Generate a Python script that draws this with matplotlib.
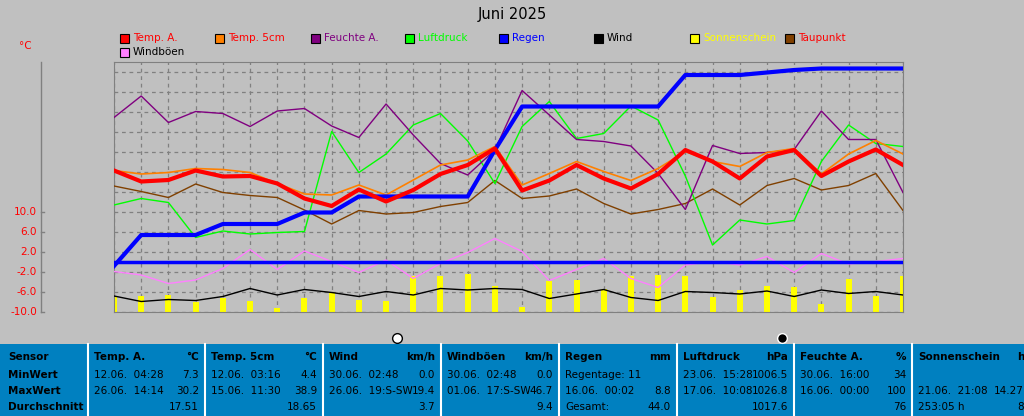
import matplotlib
matplotlib.use("Agg")
import matplotlib.pyplot as plt
import matplotlib.transforms as mtrans
from matplotlib.patches import Rectangle
from matplotlib.lines import Line2D

days = list(range(1, 31))
temp_a = [18.3,16.1,16.4,18.3,17.1,17.2,15.7,12.7,11.2,14.5,12.1,14.4,17.6,19.4,22.7,
          14.3,16.3,19.4,16.7,14.7,17.6,22.4,20.1,16.7,21.1,22.4,17.2,20.1,22.5,19.4]
temp_5cm = [18.3,17.6,17.9,18.7,18.5,17.9,15.7,13.6,13.4,15.4,13.4,16.4,19.4,20.4,23.1,
            15.4,17.7,20.1,18.1,16.3,18.7,22.1,20.1,19.1,21.9,22.7,17.6,21.6,24.3,21.6]
feuchte = [28.9,33.2,27.9,30.1,29.7,27.1,30.2,30.7,27.2,24.9,31.6,25.4,19.7,17.4,22.4,
           34.3,29.4,24.5,24.1,23.2,17.7,10.5,23.3,21.7,21.9,22.5,30.2,24.5,24.5,13.9]
luftdruck = [11.4,12.7,11.9,4.9,6.2,5.6,5.9,6.1,26.1,17.9,21.6,27.4,29.7,24.2,15.7,
             27.1,32.1,24.7,25.7,31.2,28.4,17.2,3.4,8.4,7.6,8.3,20.1,27.4,23.7,23.1]
regen = [-0.8,5.4,5.4,5.4,7.6,7.6,7.6,9.9,9.9,13.1,13.1,13.1,13.1,13.1,22.4,
         31.1,31.1,31.1,31.1,31.1,31.1,37.4,37.4,37.4,37.9,38.4,38.7,38.7,38.7,38.7]
regen_base = [0.0]*30
windboeen = [-1.9,-2.6,-4.3,-3.6,-1.3,2.5,-1.5,2.2,0.1,-2.1,0.4,-3.3,-0.3,1.9,4.7,
             2.1,-3.7,-1.5,0.7,-3.3,-5.1,-0.6,0.1,-0.6,1.1,-2.1,1.7,-0.4,0.1,0.7]
wind = [-6.8,-7.9,-7.5,-7.7,-6.9,-5.3,-6.6,-5.5,-6.1,-6.9,-5.9,-6.6,-5.3,-5.6,-5.3,
        -5.5,-7.3,-6.4,-5.5,-7.1,-7.7,-5.9,-6.1,-6.4,-5.8,-6.9,-5.6,-6.3,-5.9,-6.6]
sonne = [-6.8,-6.8,-6.6,-7.9,-7.1,-7.7,-9.1,-7.1,-6.1,-7.6,-7.7,-2.8,-2.8,-2.4,-4.8,
         -8.9,-3.7,-3.5,-5.3,-2.8,-2.6,-2.8,-6.9,-5.5,-4.8,-4.9,-8.4,-3.3,-6.8,-2.8]
taupunkt = [15.2,14.1,12.9,15.6,13.9,13.3,12.9,10.4,7.6,10.3,9.6,9.9,11.1,11.9,16.3,
            12.7,13.2,14.6,11.7,9.6,10.5,11.7,14.6,11.4,15.3,16.7,14.4,15.3,17.7,10.3]
ytick_labels = ["-10.0","-6.0","-2.0","2.0","6.0","10.0"]
ytick_vals = [-10,-6,-2,2,6,10]

legend_names = ["Temp. A.","Temp. 5cm","Feuchte A.","Luftdruck","Regen","Wind","Sonnenschein","Taupunkt","Windböen"]
legend_colors = ["#ff0000","#ff8000","#800080","#00ff00","#0000ff","#000000","#ffff00","#804000","#ff80ff"]
legend_text_colors = ["#ff0000","#ff0000","#800080","#00ff00","#0000ff","#000000","#ffff00","#ff0000","#000000"]

table_cols = [
    ("Temp. A.", "°C", [("12.06.  04:28", "7.3"), ("26.06.  14:14", "30.2"), ("", "17.51")]),
    ("Temp. 5cm", "°C", [("12.06.  03:16", "4.4"), ("15.06.  11:30", "38.9"), ("", "18.65")]),
    ("Wind", "km/h", [("30.06.  02:48", "0.0"), ("26.06.  19:S-SW", "19.4"), ("", "3.7")]),
    ("Windböen", "km/h", [("30.06.  02:48", "0.0"), ("01.06.  17:S-SW", "46.7"), ("", "9.4")]),
    ("Regen", "mm", [("Regentage: 11", ""), ("16.06.  00:02", "8.8"), ("Gesamt:", "44.0")]),
    ("Luftdruck", "hPa", [("23.06.  15:28", "1006.5"), ("17.06.  10:08", "1026.8"), ("", "1017.6")]),
    ("Feuchte A.", "%", [("30.06.  16:00", "34"), ("16.06.  00:00", "100"), ("", "76")]),
    ("Sonnenschein", "h", [("", ""), ("21.06.  21:08", "14.27"), ("253:05 h", "8")]),
]
row_names = ["Sensor", "MinWert", "MaxWert", "Durchschnitt"]

W, H = 1024, 416
bg = "#c0c0c0"
fig = plt.figure(figsize=(W/100, H/100), dpi=100, facecolor=bg)
def fx(px): return px / W
def fy(py): return 1 - py / H

ax = fig.add_axes([fx(114), fy(312), fx(903)-fx(114), (312-62)/H])
ax.set_facecolor(bg)
ax.set_xlim(1, 30)
ax.set_ylim(-10, 40)
ax.set_xticks(days)
ax.set_yticks(list(range(-10, 41, 4)))
ax.grid(True, color="#808080", linestyle=(0, (3, 3)), linewidth=0.9)
ax.tick_params(length=0, labelleft=False, labelbottom=False)
for s in ax.spines.values():
    s.set_color("#808080")

ax.bar(days, [v + 10 for v in sonne], bottom=-10, width=0.22, color="#ffff00", zorder=2)
ax.plot(days, wind, color="#000000", lw=1, zorder=3)
ax.plot(days, windboeen, color="#ff80ff", lw=1, zorder=3)
ax.plot(days, regen_base, color="#0000ff", lw=2.5, zorder=3)
ax.plot(days, taupunkt, color="#804000", lw=1, zorder=3)
ax.plot(days, luftdruck, color="#00ff00", lw=1, zorder=3)
ax.plot(days, feuchte, color="#800080", lw=1, zorder=3)
ax.plot(days, temp_5cm, color="#ff8000", lw=1.2, zorder=4)
ax.plot(days, regen, color="#0000ff", lw=3, zorder=5)
ax.plot(days, temp_a, color="#ff0000", lw=3, zorder=6)

# left y-axis
fig.add_artist(Line2D([fx(41), fx(41)], [fy(62), fy(312)], color="#808080", lw=1))
tr = mtrans.blended_transform_factory(fig.transFigure, ax.transData)
for v, lab in zip(ytick_vals, ytick_labels):
    fig.add_artist(Line2D([fx(41), fx(44)], [v, v], transform=tr, color="#808080", lw=1))
    fig.text(fx(37), v, lab, transform=tr, ha="right", va="center", color="#ff0000", fontsize=7.5)
fig.text(fx(25), fy(46), "°C", color="#ff0000", ha="center", va="center", fontsize=7.5)
fig.text(0.5, fy(15), "Juni 2025", ha="center", va="center", fontsize=10.5)

# legend
leg_x = [124, 219, 315, 409, 503, 598, 694, 789, 124]
leg_y = [38]*8 + [52]
for name, c, tc, x, y in zip(legend_names, legend_colors, legend_text_colors, leg_x, leg_y):
    fig.add_artist(Rectangle((fx(x-4), fy(y+5)), 9/W, 9/H, facecolor=c, edgecolor="black", lw=0.8))
    fig.text(fx(x+14-5), fy(y), name, color=tc, ha="left", va="center", fontsize=7.5)

# markers
fig.add_artist(Line2D([fx(397)], [fy(338)], marker="o", ms=7, mfc="white", mec="black", mew=1))
fig.add_artist(Line2D([fx(782)], [fy(338)], marker="o", ms=7, mfc="black", mec="white", mew=1))

# table
tab_top = 344
fig.add_artist(Rectangle((0, 0), 1, (H - tab_top)/H, facecolor="#0080c0", edgecolor="none"))
bounds = [0, 88, 205, 323, 441, 559, 677, 794, 912, 1030]
for b in bounds[1:-1]:
    fig.add_artist(Line2D([fx(b), fx(b)], [0, fy(tab_top)], color="white", lw=1.5))
rows_y = [357, 375, 391, 407]
for name, y in zip(row_names, rows_y):
    fig.text(fx(8), fy(y), name, fontsize=7.5, fontweight="bold", va="center")
for i, (hdr, unit, rows) in enumerate(table_cols):
    l, r = bounds[i+1] + 6, bounds[i+2] - 6
    fig.text(fx(l), fy(rows_y[0]), hdr, fontsize=7.5, fontweight="bold", va="center")
    fig.text(fx(r), fy(rows_y[0]), unit, fontsize=7.5, fontweight="bold", va="center", ha="right")
    for (a, b), y in zip(rows, rows_y[1:]):
        fig.text(fx(l), fy(y), a, fontsize=7.5, va="center")
        fig.text(fx(r), fy(y), b, fontsize=7.5, va="center", ha="right")

fig.savefig("out.png", dpi=100, facecolor=bg)
